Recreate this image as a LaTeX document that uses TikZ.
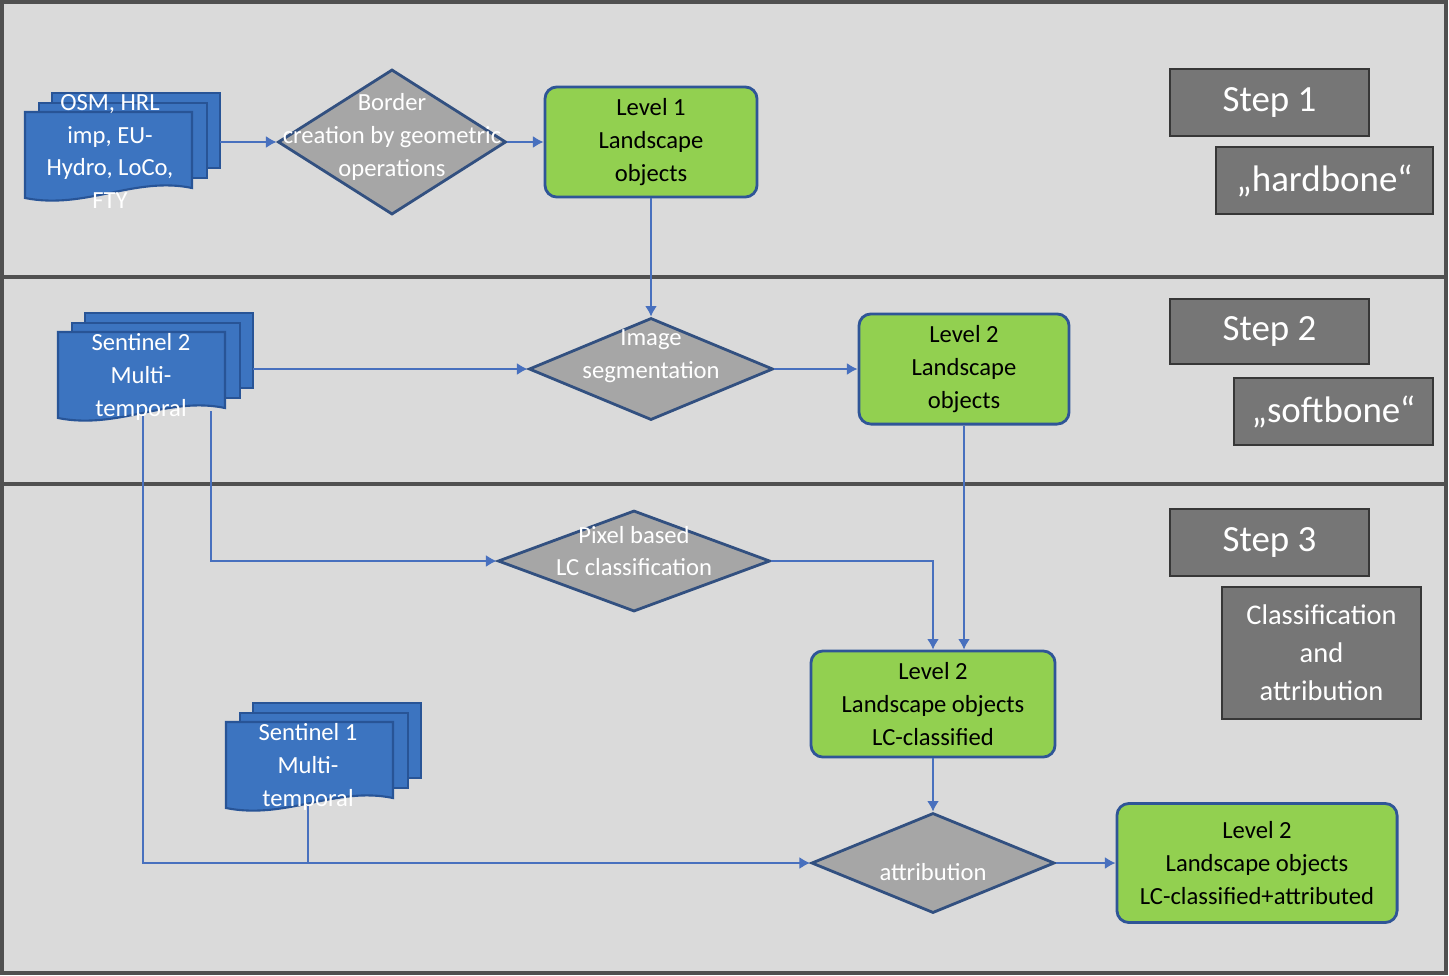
\documentclass[tikz,border=0pt]{standalone}
\usepackage{fontspec}
\setmainfont{Carlito}
\usetikzlibrary{shapes.geometric,arrows.meta}
\definecolor{bgGray}{RGB}{218,218,218}
\definecolor{frameGray}{RGB}{80,80,80}
\definecolor{docBlue}{RGB}{60,116,192}
\definecolor{docEdge}{RGB}{40,84,150}
\definecolor{lineBlue}{RGB}{72,112,190}
\definecolor{decGray}{RGB}{166,166,166}
\definecolor{decEdge}{RGB}{50,80,128}
\definecolor{lvlGreen}{RGB}{146,208,80}
\definecolor{lvlEdge}{RGB}{47,85,151}
\definecolor{stepGray}{RGB}{118,118,118}
\definecolor{stepEdge}{RGB}{55,55,55}
\tikzstyle{docPage}=[fill = docBlue, draw = docEdge, line width = 0.6pt]
\tikzstyle{docText}=[text = white, align = center, font = \fontsize{7}{9.3}\selectfont]
\tikzstyle{levelBox}=[shape = rectangle, rounded corners = 0.12cm, fill = lvlGreen, draw = lvlEdge, line width = 0.8pt, align = center, font = \fontsize{7}{9.3}\selectfont]
\tikzstyle{decision}=[shape = diamond, inner sep = 0pt, fill = decGray, draw = decEdge, line width = 0.8pt]
\tikzstyle{stepBox}=[shape = rectangle, fill = stepGray, draw = stepEdge, line width = 0.6pt, text = white, align = center, font = \fontsize{10.5}{12}\selectfont]
\tikzstyle{flow}=[draw = lineBlue, line width = 0.5pt, -{Latex[length=3pt,width=3.4pt]}]
% one stack of three pages, #1,#2 = top left corner of the front page
\newcommand{\docstack}[2]{
\filldraw[docPage] (#1+27,#2-19) rectangle (#1+195,#2+56);
\filldraw[docPage] (#1+14,#2-9) rectangle (#1+182,#2+66);
\filldraw[docPage] (#1,#2) -- (#1+167,#2) -- (#1+167,#2+76) .. controls (#1+110,#2+64) and (#1+60,#2+98) .. (#1,#2+86) -- cycle;
}

\begin{document}
\begin{tikzpicture}[x = 0.01cm, y = -0.01cm]
\useasboundingbox (0,0) rectangle (1449,975);
\fill[white] (0,0) rectangle (1449,975);
\filldraw[fill = bgGray, draw = frameGray, line width = 0.9pt] (2,2) rectangle (1446,973);
\draw[frameGray, line width = 0.9pt] (2,277) -- (1446,277);
\draw[frameGray, line width = 0.9pt] (2,484) -- (1446,484);

% step labels
\node[stepBox, minimum width = 1.99cm, minimum height = 0.67cm] (step1) at (1269.5,102.5) {Step 1};
\node[stepBox, minimum width = 2.17cm, minimum height = 0.67cm] (hard) at (1324.5,180.5) {„hardbone“};
\node[stepBox, minimum width = 1.99cm, minimum height = 0.65cm] (step2) at (1269.5,331.5) {Step 2};
\node[stepBox, minimum width = 1.99cm, minimum height = 0.67cm] (soft) at (1333.5,411.5) {„softbone“};
\node[stepBox, minimum width = 1.99cm, minimum height = 0.67cm] (step3) at (1269.5,542.5) {Step 3};
\node[stepBox, minimum width = 1.99cm, minimum height = 1.32cm, font = \fontsize{8.1}{10.8}\selectfont] (clsatt) at (1321.5,653) {Classification\\and\\attribution};

% input data
\docstack{25}{112}
\node[docText] (osm) at (110,151.5) {OSM, HRL\\imp, EU-\\Hydro, LoCo,\\FTY};
\docstack{58}{332}
\node[docText] (s2) at (141,377) {Sentinel 2\\Multi-\\temporal};
\docstack{226}{722}
\node[docText] (s1) at (308,767) {Sentinel 1\\Multi-\\temporal};
\coordinate (osmOut) at (220,142);
\coordinate (s2Out) at (253,369);
\coordinate (s2Left) at (143,416);
\coordinate (s2Mid) at (211,411);
\coordinate (s1Out) at (308,806);

% decisions
\node[decision, minimum width = 2.28cm, minimum height = 1.45cm, label = {[docText, yshift = 0.05cm]center:Border\\creation by geometric\\operations}] (border) at (392,142) {};
\node[decision, minimum width = 2.44cm, minimum height = 1.02cm, label = {[docText, yshift = 0.13cm]center:Image\\segmentation}] (seg) at (651,369) {};
\node[decision, minimum width = 2.72cm, minimum height = 1.01cm, label = {[docText, yshift = 0.1cm]center:Pixel based\\LC classification}] (pix) at (634,561) {};
\node[decision, minimum width = 2.43cm, minimum height = 1.00cm, label = {[docText, yshift = -0.09cm]center:attribution}] (attr) at (933,863) {};

% landscape objects
\node[levelBox, minimum width = 2.12cm, minimum height = 1.01cm] (lvlOne) at (651,142) {Level 1\\Landscape\\objects};
\node[levelBox, minimum width = 2.10cm, minimum height = 1.00cm] (lvlTwo) at (964,369) {Level 2\\Landscape\\objects};
\node[levelBox, minimum width = 2.44cm, minimum height = 1.01cm] (lvlCls) at (933,704) {Level 2\\Landscape objects\\LC-classified};
\node[levelBox, minimum width = 2.80cm, minimum height = 1.19cm] (lvlAtt) at (1257,863) {Level 2\\Landscape objects\\LC-classified+attributed};

% connectors
\draw[flow] (osmOut) -- (border.west);
\draw[flow] (border.east) -- (lvlOne.west);
\draw[flow] (lvlOne.south) -- (seg.north);
\draw[flow] (s2Out) -- (seg.west);
\draw[flow] (seg.east) -- (lvlTwo.west);
\draw[flow] (s2Mid) |- (pix.west);
\draw[flow] (pix.east) -| (lvlCls.north);
\draw[flow] (lvlTwo.south) -- (lvlTwo.south |- lvlCls.north);
\draw[flow] (s2Left) |- (attr.west);
\draw[draw = lineBlue, line width = 0.5pt] (s1Out) -- (s1Out |- attr.west);
\draw[flow] (lvlCls.south) -- (attr.north);
\draw[flow] (attr.east) -- (lvlAtt.west);
\end{tikzpicture}
\end{document}
